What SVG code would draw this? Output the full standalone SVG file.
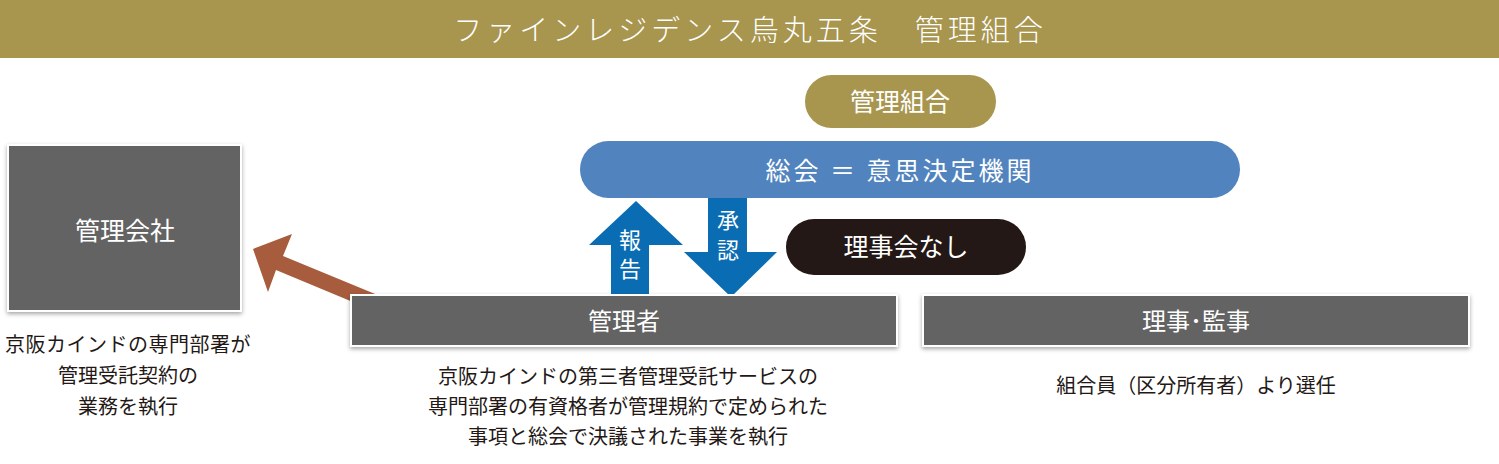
<svg xmlns="http://www.w3.org/2000/svg" width="1499" height="464" viewBox="0 0 1499 464">
<style>
text{font-family:"Noto Sans CJK JP",sans-serif;text-anchor:middle}
.w{fill:#fff}
.k{fill:#231815;font-size:20px}
.box{fill:#646464;stroke:#fff;stroke-width:2}
</style>
<defs><filter id="sh" x="-10%" y="-10%" width="120%" height="130%"><feDropShadow dx="0" dy="2" stdDeviation="2" flood-opacity="0.35"/></filter></defs>
<rect x="0" y="0" width="1499" height="58" fill="#a8954e"/>
<text class="w" x="750" y="41" font-size="29" font-weight="300" letter-spacing="4">ファインレジデンス烏丸五条　管理組合</text>
<g id="kumiai"><rect x="805" y="75" width="191" height="53" rx="26.5" fill="#a8954e"/><text class="w" x="900" y="111" font-size="25">管理組合</text></g>
<g id="sokai"><rect x="580" y="141" width="660" height="57" rx="28.5" fill="#5183be"/><text class="w" x="900" y="180" font-size="25" letter-spacing="3">総会 ＝ 意思決定機関</text></g>
<g id="nashi"><rect x="786" y="219" width="240" height="56" rx="28" fill="#231815"/><text class="w" x="906" y="256" font-size="25">理事会なし</text></g>
<g id="kaisha"><rect class="box" x="8" y="145" width="233" height="166" filter="url(#sh)"/><text class="w" x="125" y="240" font-size="25">管理会社</text>
<text class="k" x="128" y="352" letter-spacing="0.5">京阪カインドの専門部署が</text><text class="k" x="128" y="383">管理受託契約の</text><text class="k" x="128" y="414">業務を執行</text></g>
<g id="connectors">
<path d="M611 296V245H589L636 201L683 245H649V296Z" fill="#0a6db3"/>
<path d="M708 198V252H684L731 297L777 252H747V198Z" fill="#0a6db3"/>
<path d="M380 296L283 256L292 234L253 249L268 292L276 270L372 310Z" fill="#a85c3e"/>
</g>
<text class="w" x="630" y="248" font-size="22">報</text><text class="w" x="630" y="277" font-size="22">告</text>
<text class="w" x="728" y="228" font-size="22">承</text><text class="w" x="728" y="258" font-size="22">認</text>
<g id="kanrisha"><rect class="box" x="351" y="295" width="546" height="51" filter="url(#sh)"/><text class="w" x="624" y="330" font-size="24">管理者</text>
<text class="k" x="628" y="384">京阪カインドの第三者管理受託サービスの</text><text class="k" x="628" y="414">専門部署の有資格者が管理規約で定められた</text><text class="k" x="628" y="444">事項と総会で決議された事業を執行</text></g>
<g id="riji"><rect class="box" x="923" y="295" width="546" height="51" filter="url(#sh)"/><text class="w" x="1196" y="330" font-size="24">理事･監事</text>
<text class="k" x="1196" y="393">組合員（区分所有者）より選任</text></g>
</svg>
